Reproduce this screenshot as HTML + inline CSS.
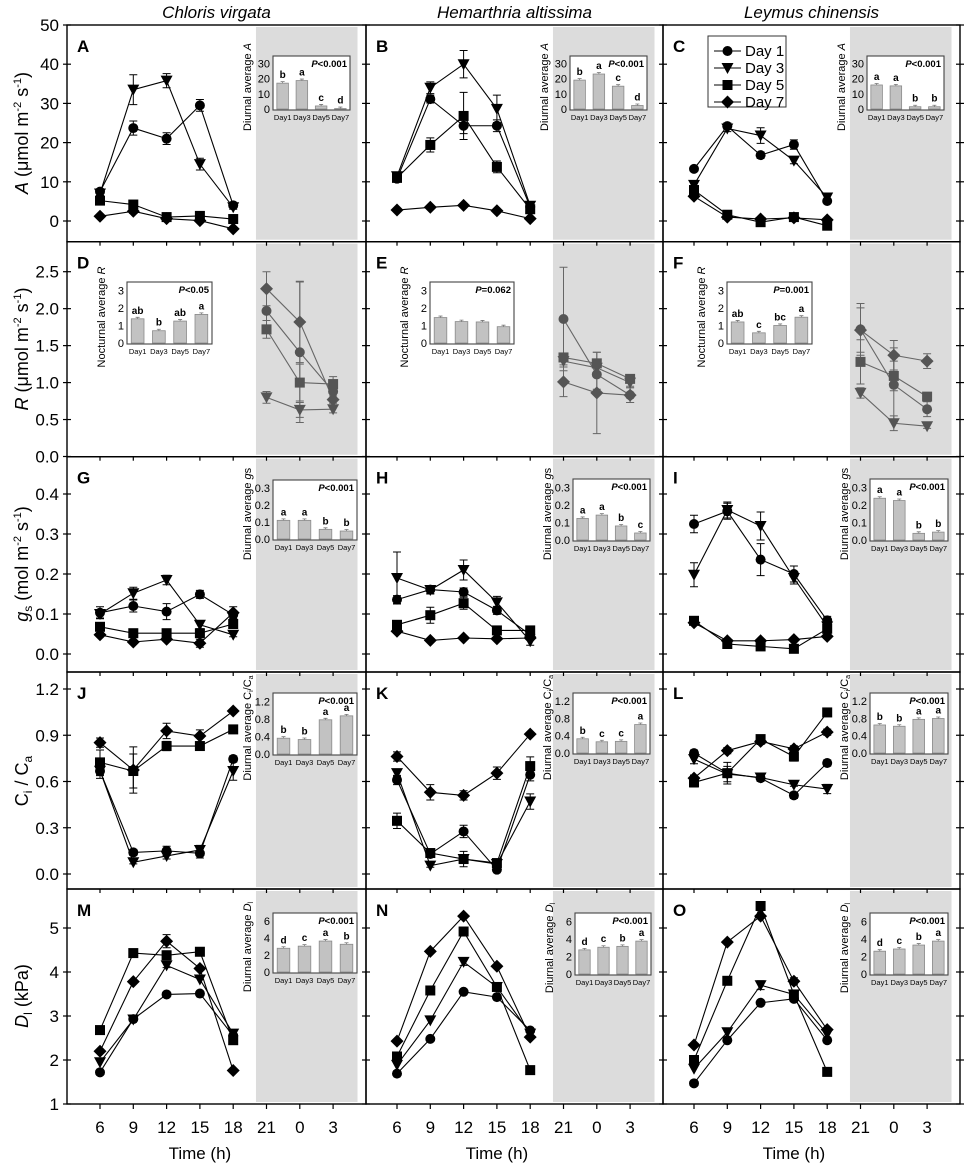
<!DOCTYPE html>
<html><head><meta charset="utf-8">
<style>
html,body{margin:0;padding:0;background:#fff;}
svg{display:block;font-family:"Liberation Sans",Arial,sans-serif;}
</style></head>
<body>
<svg id="fig" width="970" height="1166" viewBox="0 0 970 1166" xmlns="http://www.w3.org/2000/svg"></svg>
<script>
// ---------- data ----------
const dayHours = [6, 9, 12, 15, 18];
const nightHours = [21, 24, 27];
const xTickHours = [6, 9, 12, 15, 18, 21, 24, 27];
const xTickLabels = ["6", "9", "12", "15", "18", "21", "0", "3"];
const speciesNames = ["Chloris virgata", "Hemarthria altissima", "Leymus chinensis"];
const dayNames = ["Day 1", "Day 3", "Day 5", "Day 7"];
const insetCats = ["Day1", "Day3", "Day5", "Day7"];

const yTicksA = [0, 10, 20, 30, 40, 50];
const yTicksR = [0.0, 0.5, 1.0, 1.5, 2.0, 2.5];
const yTicksG = [0.0, 0.1, 0.2, 0.3, 0.4];
const yTicksC = [0.0, 0.3, 0.6, 0.9, 1.2];
const yTicksD = [1, 2, 3, 4, 5];
const yTickLabelsR = ["0.0", "0.5", "1.0", "1.5", "2.0", "2.5"];
const yTickLabelsG = ["0.0", "0.1", "0.2", "0.3", "0.4"];
const yTickLabelsC = ["0.0", "0.3", "0.6", "0.9", "1.2"];

// Panel A (Chloris, A)
const A_d1 = [7.5, 23.7, 21, 29.5, 4.0];   const A_e1 = [0.5, 1.8, 1.5, 1.5, 0.5];
const A_d3 = [7, 33.5, 35.8, 14.5, 3.5];   const A_e3 = [0.5, 3.8, 1.8, 1.5, 0.5];
const A_d5 = [5.2, 4.2, 1.0, 1.3, 0.5];    const A_e5 = [0.8, 0.5, 0.3, 0.3, 0.2];
const A_d7 = [1.2, 2.5, 0.6, 0.1, -2];     const A_e7 = [0.3, 0.6, 0.3, 0.3, 0.3];
// Panel B
const B_d1 = [10.8, 31.1, 24.3, 24.3, 3.6]; const B_e1 = [0.8, 1.0, 2.0, 1.5, 0.5];
const B_d3 = [11.4, 34, 40, 28.6, 3.9];    const B_e3 = [0.8, 1.5, 3.5, 3.5, 0.5];
const B_d5 = [11, 19.4, 26.8, 13.8, 3];    const B_e5 = [0.8, 1.8, 6, 1.5, 0.5];
const B_d7 = [2.8, 3.5, 4, 2.6, 0.6];      const B_e7 = [0.3, 0.3, 0.3, 0.3, 0.3];
// Panel C
const C_d1 = [13.3, 24.2, 16.8, 19.5, 5.1]; const C_e1 = [0.5, 0.8, 0.8, 1.2, 0.5];
const C_d3 = [9.2, 23.6, 21.8, 15.4, 6];   const C_e3 = [0.5, 0.8, 2, 0.8, 0.5];
const C_d5 = [7.9, 1.6, -0.3, 1.0, -1.2];  const C_e5 = [0.3, 0.3, 0.3, 0.3, 0.3];
const C_d7 = [6.3, 1.0, 0.5, 0.8, 0.3];    const C_e7 = [0.3, 0.3, 0.3, 0.3, 0.3];
// Panel D (night R)
const D_d1 = [1.97, 1.41, 0.88]; const D_e1 = [0.3, 0.95, 0.1];
const D_d3 = [0.80, 0.63, 0.64]; const D_e3 = [0.08, 0.1, 0.05];
const D_d5 = [1.72, 1.0, 0.98];  const D_e5 = [0.12, 0.25, 0.1];
const D_d7 = [2.27, 1.82, 0.77]; const D_e7 = [0.23, 0.55, 0.05];
// Panel E
const E_d1 = [1.86, 1.11, 0.83]; const E_e1 = [0.7, 0.2, 0.1];
const E_d3 = [1.29, 1.2, 1.0];   const E_e3 = [0.05, 0.1, 0.05];
const E_d5 = [1.34, 1.26, 1.05]; const E_e5 = [0.05, 0.15, 0.05];
const E_d7 = [1.01, 0.86, 0.83]; const E_e7 = [0.2, 0.55, 0.1];
// Panel F
const F_d1 = [1.72, 0.97, 0.64]; const F_e1 = [0.35, 0.5, 0.1];
const F_d3 = [0.86, 0.45, 0.41]; const F_e3 = [0.07, 0.1, 0.03];
const F_d5 = [1.28, 1.09, 0.81]; const F_e5 = [0.3, 0.2, 0.05];
const F_d7 = [1.71, 1.37, 1.29]; const F_e7 = [0.3, 0.2, 0.1];
// Panel G
const G_d1 = [0.103, 0.12, 0.106, 0.149, 0.098]; const G_e1 = [0.015, 0.015, 0.02, 0.01, 0.01];
const G_d3 = [0.10, 0.152, 0.185, 0.073, 0.048]; const G_e3 = [0.01, 0.015, 0.012, 0.01, 0.005];
const G_d5 = [0.068, 0.052, 0.052, 0.052, 0.075]; const G_e5 = [0.005, 0.004, 0.004, 0.004, 0.01];
const G_d7 = [0.048, 0.03, 0.037, 0.027, 0.103]; const G_e7 = [0.005, 0.005, 0.005, 0.01, 0.015];
// Panel H
const H_d1 = [0.136, 0.161, 0.155, 0.109, 0.048]; const H_e1 = [0.01, 0.01, 0.01, 0.01, 0.01];
const H_d3 = [0.19, 0.16, 0.21, 0.129, 0.032];   const H_e3 = [0.065, 0.01, 0.025, 0.015, 0.01];
const H_d5 = [0.073, 0.097, 0.127, 0.059, 0.059]; const H_e5 = [0.01, 0.02, 0.015, 0.01, 0.01];
const H_d7 = [0.057, 0.034, 0.04, 0.038, 0.04];  const H_e7 = [0.005, 0.004, 0.004, 0.004, 0.005];
// Panel I
const I_d1 = [0.325, 0.357, 0.236, 0.2, 0.084]; const I_e1 = [0.022, 0.02, 0.04, 0.02, 0.01];
const I_d3 = [0.198, 0.36, 0.32, 0.19, 0.069]; const I_e3 = [0.03, 0.02, 0.035, 0.015, 0.01];
const I_d5 = [0.083, 0.025, 0.019, 0.013, 0.063]; const I_e5 = [0.005, 0.004, 0.004, 0.004, 0.005];
const I_d7 = [0.078, 0.033, 0.033, 0.036, 0.044]; const I_e7 = [0.005, 0.004, 0.004, 0.004, 0.005];
// Panel J
const J_d1 = [0.668, 0.14, 0.15, 0.134, 0.746]; const J_e1 = [0.03, 0.02, 0.03, 0.03, 0.02];
const J_d3 = [0.67, 0.076, 0.117, 0.156, 0.668]; const J_e3 = [0.05, 0.01, 0.02, 0.03, 0.06];
const J_d5 = [0.724, 0.668, 0.83, 0.83, 0.938]; const J_e5 = [0.08, 0.11, 0.03, 0.01, 0.01];
const J_d7 = [0.852, 0.675, 0.928, 0.895, 1.057]; const J_e7 = [0.03, 0.15, 0.05, 0.04, 0.01];
// Panel K
const K_d1 = [0.61, 0.13, 0.276, 0.028, 0.644]; const K_e1 = [0.03, 0.02, 0.04, 0.01, 0.04];
const K_d3 = [0.654, 0.054, 0.097, 0.065, 0.47]; const K_e3 = [0.02, 0.01, 0.02, 0.01, 0.05];
const K_d5 = [0.345, 0.136, 0.097, 0.071, 0.70]; const K_e5 = [0.05, 0.02, 0.05, 0.01, 0.06];
const K_d7 = [0.762, 0.53, 0.51, 0.654, 0.907]; const K_e7 = [0.03, 0.05, 0.03, 0.04, 0.01];
// Panel L
const L_d1 = [0.784, 0.654, 0.622, 0.51, 0.72]; const L_e1 = [0.02, 0.02, 0.02, 0.02, 0.02];
const L_d3 = [0.745, 0.648, 0.626, 0.579, 0.551]; const L_e3 = [0.03, 0.05, 0.02, 0.01, 0.03];
const L_d5 = [0.594, 0.654, 0.875, 0.762, 1.048]; const L_e5 = [0.03, 0.07, 0.02, 0.03, 0.01];
const L_d7 = [0.622, 0.8, 0.86, 0.812, 0.92]; const L_e7 = [0.02, 0.02, 0.02, 0.02, 0.02];
// Panel M
const M_d1 = [1.72, 2.93, 3.49, 3.51, 2.55]; const M_e1 = [0, 0, 0, 0, 0];
const M_d3 = [1.95, 2.92, 4.15, 3.83, 2.6];  const M_e3 = [0, 0, 0.05, 0, 0];
const M_d5 = [2.68, 4.43, 4.38, 4.46, 2.45]; const M_e5 = [0, 0, 0.1, 0, 0];
const M_d7 = [2.2, 3.78, 4.7, 4.08, 1.76];   const M_e7 = [0, 0, 0.15, 0, 0];
// Panel N
const N_d1 = [1.69, 2.48, 3.55, 3.43, 2.67]; const N_e1 = [0, 0, 0, 0, 0];
const N_d3 = [1.89, 2.9, 4.23, 3.66, 2.6];   const N_e3 = [0, 0, 0.08, 0, 0];
const N_d5 = [2.08, 3.58, 4.92, 3.66, 1.77]; const N_e5 = [0, 0, 0, 0, 0];
const N_d7 = [2.43, 4.47, 5.27, 4.13, 2.52]; const N_e7 = [0, 0, 0.03, 0, 0];
// Panel O
const O_d1 = [1.47, 2.45, 3.3, 3.39, 2.45]; const O_e1 = [0, 0, 0, 0, 0];
const O_d3 = [1.8, 2.63, 3.7, 3.49, 2.59];  const O_e3 = [0, 0, 0.1, 0, 0];
const O_d5 = [2.0, 3.8, 5.5, 3.49, 1.73];   const O_e5 = [0, 0, 0, 0, 0];
const O_d7 = [2.34, 4.68, 5.27, 3.79, 2.69]; const O_e7 = [0, 0, 0, 0.08, 0];

// Inset bar data
const insA_vals = [17, 18.7, 2, 0.3];       const insA_letters = ["b", "a", "c", "d"];
const insB_vals = [19, 23, 15, 2.3];        const insB_letters = ["b", "a", "c", "d"];
const insC_vals = [15.8, 15.2, 1.5, 1.5];   const insC_letters = ["a", "a", "b", "b"];
const insD_vals = [1.38, 0.7, 1.25, 1.63];  const insD_letters = ["ab", "b", "ab", "a"];
const insE_vals = [1.45, 1.22, 1.2, 0.93];  const insE_letters = ["", "", "", ""];
const insF_vals = [1.2, 0.58, 1.0, 1.47];   const insF_letters = ["ab", "c", "bc", "a"];
const insG_vals = [0.11, 0.11, 0.057, 0.047]; const insG_letters = ["a", "a", "b", "b"];
const insH_vals = [0.123, 0.142, 0.08, 0.04]; const insH_letters = ["a", "a", "b", "c"];
const insI_vals = [0.238, 0.225, 0.038, 0.045]; const insI_letters = ["a", "a", "b", "b"];
const insJ_vals = [0.36, 0.33, 0.78, 0.87]; const insJ_letters = ["b", "b", "a", "a"];
const insK_vals = [0.33, 0.26, 0.27, 0.66]; const insK_letters = ["b", "c", "c", "a"];
const insL_vals = [0.65, 0.62, 0.78, 0.8];  const insL_letters = ["b", "b", "a", "a"];
const insM_vals = [2.8, 3.05, 3.65, 3.27];  const insM_letters = ["d", "c", "a", "b"];
const insN_vals = [2.75, 3.05, 3.15, 3.75]; const insN_letters = ["d", "c", "b", "a"];
const insO_vals = [2.6, 2.85, 3.3, 3.75];   const insO_letters = ["d", "c", "b", "a"];
const insTicksA = [0, 10, 20, 30];
const insTicksR = [0, 1, 2, 3];
const insTicksG = [0.0, 0.1, 0.2, 0.3];
const insTicksC = [0.0, 0.4, 0.8, 1.2];
const insTicksD = [0, 2, 4, 6];

// ---------- layout ----------
const svg = document.getElementById('fig');
const NS = 'http://www.w3.org/2000/svg';
function mk(tag, attrs, parent) {
  const e = document.createElementNS(NS, tag);
  for (const k in attrs) e.setAttribute(k, attrs[k]);
  (parent || svg).appendChild(e);
  return e;
}
const rowTop = [25, 241.7, 456.7, 672, 889];
const rowBot = [241.7, 456.7, 672, 889, 1104];
const rowRef = [[0, 221, 50, 25], [0, 456.5, 2.5, 271.7], [0, 654, 0.4, 494], [0, 874, 1.2, 689], [1, 1104, 5, 928]];
const colLeft = [67, 366, 663];
const colRight = [366, 663, 960];
function yScale(r, v) { const f = rowRef[r]; return f[1] + (v - f[0]) * (f[3] - f[1]) / (f[2] - f[0]); }
function xScale(c, h) { return 100 + 297 * c + (h - 6) * 11.1; }

const panels = [
  {L:'A', r:0, c:0, hours:dayHours, s:[[A_d1,A_e1],[A_d3,A_e3],[A_d5,A_e5],[A_d7,A_e7]], ins:{box:[273,56,77,54], ticks:insTicksA, tl:['0','10','20','30'], vals:insA_vals, let:insA_letters, p:'<0.001', lab:'Diurnal average <tspan font-style="italic">A</tspan>'}},
  {L:'B', r:0, c:1, hours:dayHours, s:[[B_d1,B_e1],[B_d3,B_e3],[B_d5,B_e5],[B_d7,B_e7]], ins:{box:[570,56,77,54], ticks:insTicksA, tl:['0','10','20','30'], vals:insB_vals, let:insB_letters, p:'<0.001', lab:'Diurnal average <tspan font-style="italic">A</tspan>'}},
  {L:'C', r:0, c:2, hours:dayHours, s:[[C_d1,C_e1],[C_d3,C_e3],[C_d5,C_e5],[C_d7,C_e7]], ins:{box:[867,56,77,54], ticks:insTicksA, tl:['0','10','20','30'], vals:insC_vals, let:insC_letters, p:'<0.001', lab:'Diurnal average <tspan font-style="italic">A</tspan>'}},
  {L:'D', r:1, c:0, hours:nightHours, gray:true, s:[[D_d1,D_e1],[D_d3,D_e3],[D_d5,D_e5],[D_d7,D_e7]], ins:{box:[127,282,85,62], ticks:insTicksR, tl:['0','1','2','3'], vals:insD_vals, let:insD_letters, p:'<0.05', lab:'Nocturnal average <tspan font-style="italic">R</tspan>'}},
  {L:'E', r:1, c:1, hours:nightHours, gray:true, s:[[E_d1,E_e1],[E_d3,E_e3],[E_d5,E_e5],[E_d7,E_e7]], ins:{box:[430,282,84,62], ticks:insTicksR, tl:['0','1','2','3'], vals:insE_vals, let:insE_letters, p:'=0.062', lab:'Nocturnal average <tspan font-style="italic">R</tspan>'}},
  {L:'F', r:1, c:2, hours:nightHours, gray:true, s:[[F_d1,F_e1],[F_d3,F_e3],[F_d5,F_e5],[F_d7,F_e7]], ins:{box:[727,282,85,62], ticks:insTicksR, tl:['0','1','2','3'], vals:insF_vals, let:insF_letters, p:'=0.001', lab:'Nocturnal average <tspan font-style="italic">R</tspan>'}},
  {L:'G', r:2, c:0, hours:dayHours, s:[[G_d1,G_e1],[G_d3,G_e3],[G_d5,G_e5],[G_d7,G_e7]], ins:{box:[273,480,84,60], ticks:insTicksG, tl:['0.0','0.1','0.2','0.3'], vals:insG_vals, let:insG_letters, p:'<0.001', lab:'Diurnal average <tspan font-style="italic">g</tspan>s'}},
  {L:'H', r:2, c:1, hours:dayHours, s:[[H_d1,H_e1],[H_d3,H_e3],[H_d5,H_e5],[H_d7,H_e7]], ins:{box:[573,479,77,62], ticks:insTicksG, tl:['0.0','0.1','0.2','0.3'], vals:insH_vals, let:insH_letters, p:'<0.001', lab:'Diurnal average <tspan font-style="italic">g</tspan>s'}},
  {L:'I', r:2, c:2, hours:dayHours, s:[[I_d1,I_e1],[I_d3,I_e3],[I_d5,I_e5],[I_d7,I_e7]], ins:{box:[870,479,78,62], ticks:insTicksG, tl:['0.0','0.1','0.2','0.3'], vals:insI_vals, let:insI_letters, p:'<0.001', lab:'Diurnal average <tspan font-style="italic">g</tspan>s'}},
  {L:'J', r:3, c:0, hours:dayHours, s:[[J_d1,J_e1],[J_d3,J_e3],[J_d5,J_e5],[J_d7,J_e7]], ins:{box:[273,693,84,62], ticks:insTicksC, tl:['0.0','0.4','0.8','1.2'], vals:insJ_vals, let:insJ_letters, p:'<0.001', lab:'Diurnal average C<tspan font-size="7" dy="2">i</tspan><tspan dy="-2">/C</tspan><tspan font-size="7" dy="2">a</tspan>'}},
  {L:'K', r:3, c:1, hours:dayHours, s:[[K_d1,K_e1],[K_d3,K_e3],[K_d5,K_e5],[K_d7,K_e7]], ins:{box:[573,693,77,61], ticks:insTicksC, tl:['0.0','0.4','0.8','1.2'], vals:insK_vals, let:insK_letters, p:'<0.001', lab:'Diurnal average C<tspan font-size="7" dy="2">i</tspan><tspan dy="-2">/C</tspan><tspan font-size="7" dy="2">a</tspan>'}},
  {L:'L', r:3, c:2, hours:dayHours, s:[[L_d1,L_e1],[L_d3,L_e3],[L_d5,L_e5],[L_d7,L_e7]], ins:{box:[870,693,78,61], ticks:insTicksC, tl:['0.0','0.4','0.8','1.2'], vals:insL_vals, let:insL_letters, p:'<0.001', lab:'Diurnal average C<tspan font-size="7" dy="2">i</tspan><tspan dy="-2">/C</tspan><tspan font-size="7" dy="2">a</tspan>'}},
  {L:'M', r:4, c:0, hours:dayHours, s:[[M_d1,M_e1],[M_d3,M_e3],[M_d5,M_e5],[M_d7,M_e7]], ins:{box:[273,913,84,60], ticks:insTicksD, tl:['0','2','4','6'], vals:insM_vals, let:insM_letters, p:'<0.001', lab:'Diurnal average <tspan font-style="italic">D</tspan><tspan font-size="7" dy="2">l</tspan>'}},
  {L:'N', r:4, c:1, hours:dayHours, s:[[N_d1,N_e1],[N_d3,N_e3],[N_d5,N_e5],[N_d7,N_e7]], ins:{box:[575,913,76,62], ticks:insTicksD, tl:['0','2','4','6'], vals:insN_vals, let:insN_letters, p:'<0.001', lab:'Diurnal average <tspan font-style="italic">D</tspan><tspan font-size="7" dy="2">l</tspan>'}},
  {L:'O', r:4, c:2, hours:dayHours, s:[[O_d1,O_e1],[O_d3,O_e3],[O_d5,O_e5],[O_d7,O_e7]], ins:{box:[870,913,78,62], ticks:insTicksD, tl:['0','2','4','6'], vals:insO_vals, let:insO_letters, p:'<0.001', lab:'Diurnal average <tspan font-style="italic">D</tspan><tspan font-size="7" dy="2">l</tspan>'}}
];
const rowTicks = [yTicksA, yTicksR, yTicksG, yTicksC, yTicksD];
const markerTypes = ['circle', 'tri', 'square', 'diamond'];

function marker(type, x, y, fill, g) {
  let e;
  if (type === 'circle') e = mk('circle', {cx:x, cy:y, r:5, fill:fill}, g);
  else if (type === 'tri') e = mk('polygon', {points:`${x-6},${y-5} ${x+6},${y-5} ${x},${y+6}`, fill:fill}, g);
  else if (type === 'square') e = mk('rect', {x:x-5, y:y-5, width:10, height:10, fill:fill}, g);
  else e = mk('polygon', {points:`${x},${y-6.5} ${x+6.5},${y} ${x},${y+6.5} ${x-6.5},${y}`, fill:fill}, g);
  return e;
}

// gray night bands
for (let r = 0; r < 5; r++) for (let c = 0; c < 3; c++) {
  const x0 = xScale(c, 20.05), x1 = xScale(c, 29.2);
  const b = mk('rect', {x:x0, y:rowTop[r] + 2, width:x1 - x0, height:rowBot[r] - rowTop[r] - 4, fill:'#dcdcdc'});
  
  
}

// panel frames and ticks
for (let r = 0; r < 5; r++) for (let c = 0; c < 3; c++) {
  const fr = mk('rect', {x:colLeft[c], y:rowTop[r], width:colRight[c] - colLeft[c], height:rowBot[r] - rowTop[r], fill:'none', stroke:'#000', 'stroke-width':1.4});
  
  
  if (r > 0) xTickHours.forEach(h => { mk('line', {x1:xScale(c, h), x2:xScale(c, h), y1:rowTop[r], y2:rowTop[r] + 4, stroke:'#000', 'stroke-width':1.2}); });
  if (r === 4) xTickHours.forEach(h => { mk('line', {x1:xScale(c, h), x2:xScale(c, h), y1:rowBot[r], y2:rowBot[r] + 5, stroke:'#000', 'stroke-width':1.2}); });
  rowTicks[r].forEach(v => {
    const y = yScale(r, v);
    mk('line', {x1:colRight[c] - 4, x2:colRight[c] + 4, y1:y, y2:y, stroke:'#000', 'stroke-width':1.2});
    if (c === 0) mk('line', {x1:colLeft[c] - 4, x2:colLeft[c] + 4, y1:y, y2:y, stroke:'#000', 'stroke-width':1.2});
  });
}

// y tick labels (left column)
const rowTickLabels = [yTicksA.map(String), yTickLabelsR, yTickLabelsG, yTickLabelsC, yTicksD.map(String)];
for (let r = 0; r < 5; r++) rowTicks[r].forEach((v, i) => {
  const t = mk('text', {x:59, y:yScale(r, v) + 6, 'font-size':17, 'text-anchor':'end', fill:'#000'});
  t.textContent = rowTickLabels[r][i];
  
  
});
// x tick labels
for (let c = 0; c < 3; c++) {
  xTickHours.forEach((h, i) => {
    const t = mk('text', {x:xScale(c, h), y:1133, 'font-size':17, 'text-anchor':'middle'});
    t.textContent = xTickLabels[i];
    
    
  });
  const xt = mk('text', {x:xScale(c, 15), y:1159, 'font-size':17, 'text-anchor':'middle'});
  xt.textContent = 'Time (h)';
  
  
  const st = mk('text', {x:(colLeft[c] + colRight[c]) / 2, y:18, 'font-size':17, 'font-style':'italic', 'text-anchor':'middle'});
  st.textContent = speciesNames[c];
  
  
}

// y-axis titles
const yTitles = [
  {y:133, html:'<tspan font-style="italic">A</tspan> (μmol m<tspan font-size="11" dy="-7">-2</tspan><tspan dy="7"> s</tspan><tspan font-size="11" dy="-7">-1</tspan><tspan dy="7">)</tspan>'},
  {y:349, html:'<tspan font-style="italic">R</tspan> (μmol m<tspan font-size="11" dy="-7">-2</tspan><tspan dy="7"> s</tspan><tspan font-size="11" dy="-7">-1</tspan><tspan dy="7">)</tspan>'},
  {y:564, html:'<tspan font-style="italic">g</tspan><tspan font-size="12" dy="4">s</tspan><tspan dy="-4"> (mol m</tspan><tspan font-size="11" dy="-7">-2</tspan><tspan dy="7"> s</tspan><tspan font-size="11" dy="-7">-1</tspan><tspan dy="7">)</tspan>'},
  {y:781, html:'C<tspan font-size="12" dy="4">i</tspan><tspan dy="-4"> / C</tspan><tspan font-size="12" dy="4">a</tspan>'},
  {y:996, html:'<tspan font-style="italic">D</tspan><tspan font-size="12" dy="4">l</tspan><tspan dy="-4"> (kPa)</tspan>'}
];
yTitles.forEach(o => {
  const t = mk('text', {x:0, y:0, 'font-size':18, 'text-anchor':'middle', transform:`translate(28,${o.y}) rotate(-90)`});
  t.innerHTML = o.html;
  
  
});

// series
panels.forEach(p => {
  const g = mk('g', {});
  
  
  const col = p.gray ? '#555' : '#000';
  const lcol = p.gray ? '#666' : '#000';
  p.s.forEach((se, si) => {
    const vals = se[0], errs = se[1];
    const pts = vals.map((v, i) => [xScale(p.c, p.hours[i]), yScale(p.r, v)]);
    const ln = mk('polyline', {points:pts.map(q => q.join(',')).join(' '), fill:'none', stroke:lcol, 'stroke-width':1.1}, g);
    
    
    vals.forEach((v, i) => {
      const e = errs[i];
      if (e > 0) {
        const x = pts[i][0], y1 = yScale(p.r, v - e), y2 = yScale(p.r, v + e);
        const eb = mk('path', {d:`M${x},${y1}V${y2}M${x-4},${y1}H${x+4}M${x-4},${y2}H${x+4}`, stroke:lcol, 'stroke-width':1, fill:'none'}, g);
        
        
      }
    });
  });
  p.s.forEach((se, si) => {
    se[0].forEach((v, i) => {
      const m = marker(markerTypes[si], xScale(p.c, p.hours[i]), yScale(p.r, v), col, g);
      
      
    });
  });
  // panel letter
  const lt = mk('text', {x:colLeft[p.c] + 10, y:rowTop[p.r] + 27, 'font-size':17, 'font-weight':'bold'});
  lt.textContent = p.L;
  
  

  // inset
  const ins = p.ins;
  const [bx, by, bw, bh] = ins.box;
  const ig = mk('g', {});
  
  
  mk('rect', {x:bx, y:by, width:bw, height:bh, fill:'#fff', stroke:'#444', 'stroke-width':1.1}, ig);
  const top = ins.ticks[ins.ticks.length - 1] * 1.14;
  const iy = v => by + bh - 1 - (v / top) * (bh - 2);
  ins.ticks.forEach((v, i) => {
    const t = mk('text', {x:bx - 3, y:iy(v) + 4, 'font-size':11, 'text-anchor':'end'}, ig);
    t.textContent = ins.tl[i];
    
    
  });
  const slot = bw / 4;
  ins.vals.forEach((v, i) => {
    const cx = bx + slot * (i + 0.5), w = slot * 0.6;
    const bar = mk('rect', {x:cx - w / 2, y:iy(v), width:w, height:iy(0) - iy(v), fill:'#c2c2c2', stroke:'#8a8a8a', 'stroke-width':0.8}, ig);
    
    
    const cap = iy(v) - 1.5;
    mk('path', {d:`M${cx},${iy(v)}V${cap}M${cx-2},${cap}H${cx+2}`, stroke:'#777', 'stroke-width':0.8}, ig);
    if (ins.let[i]) {
      const l = mk('text', {x:cx, y:iy(v) - 5, 'font-size':10, 'font-weight':'bold', 'text-anchor':'middle'}, ig);
      l.textContent = ins.let[i];
      
      
    }
    const dl = mk('text', {x:cx, y:by + bh + 10, 'font-size':7.5, 'text-anchor':'middle'}, ig);
    dl.textContent = insetCats[i];
    
    
  });
  const pt = mk('text', {x:bx + bw - 3, y:by + 11, 'font-size':9.5, 'font-weight':'bold', 'text-anchor':'end'}, ig);
  pt.innerHTML = '<tspan font-style="italic">P</tspan>' + ins.p.replace('<', '&lt;');
  
  
  const yl = mk('text', {x:0, y:0, 'font-size':11, 'text-anchor':'middle', transform:`translate(${bx - 22},${by + bh / 2 + 4}) rotate(-90)`}, ig);
  yl.innerHTML = ins.lab;
  
  
});

// legend (panel C)
const lg = mk('g', {});


mk('rect', {x:708, y:36, width:78, height:71, fill:'#fff', stroke:'#333', 'stroke-width':1}, lg);
dayNames.forEach((d, i) => {
  const y = 51 + i * 17;
  const en = mk('g', {}, lg);
  
  
  mk('line', {x1:714, x2:741, y1:y, y2:y, stroke:'#000', 'stroke-width':1.1}, en);
  marker(markerTypes[i], 727.5, y, '#000', en);
  const t = mk('text', {x:745, y:y + 5, 'font-size':15}, en);
  t.textContent = d;
});
</script>
</body></html>
